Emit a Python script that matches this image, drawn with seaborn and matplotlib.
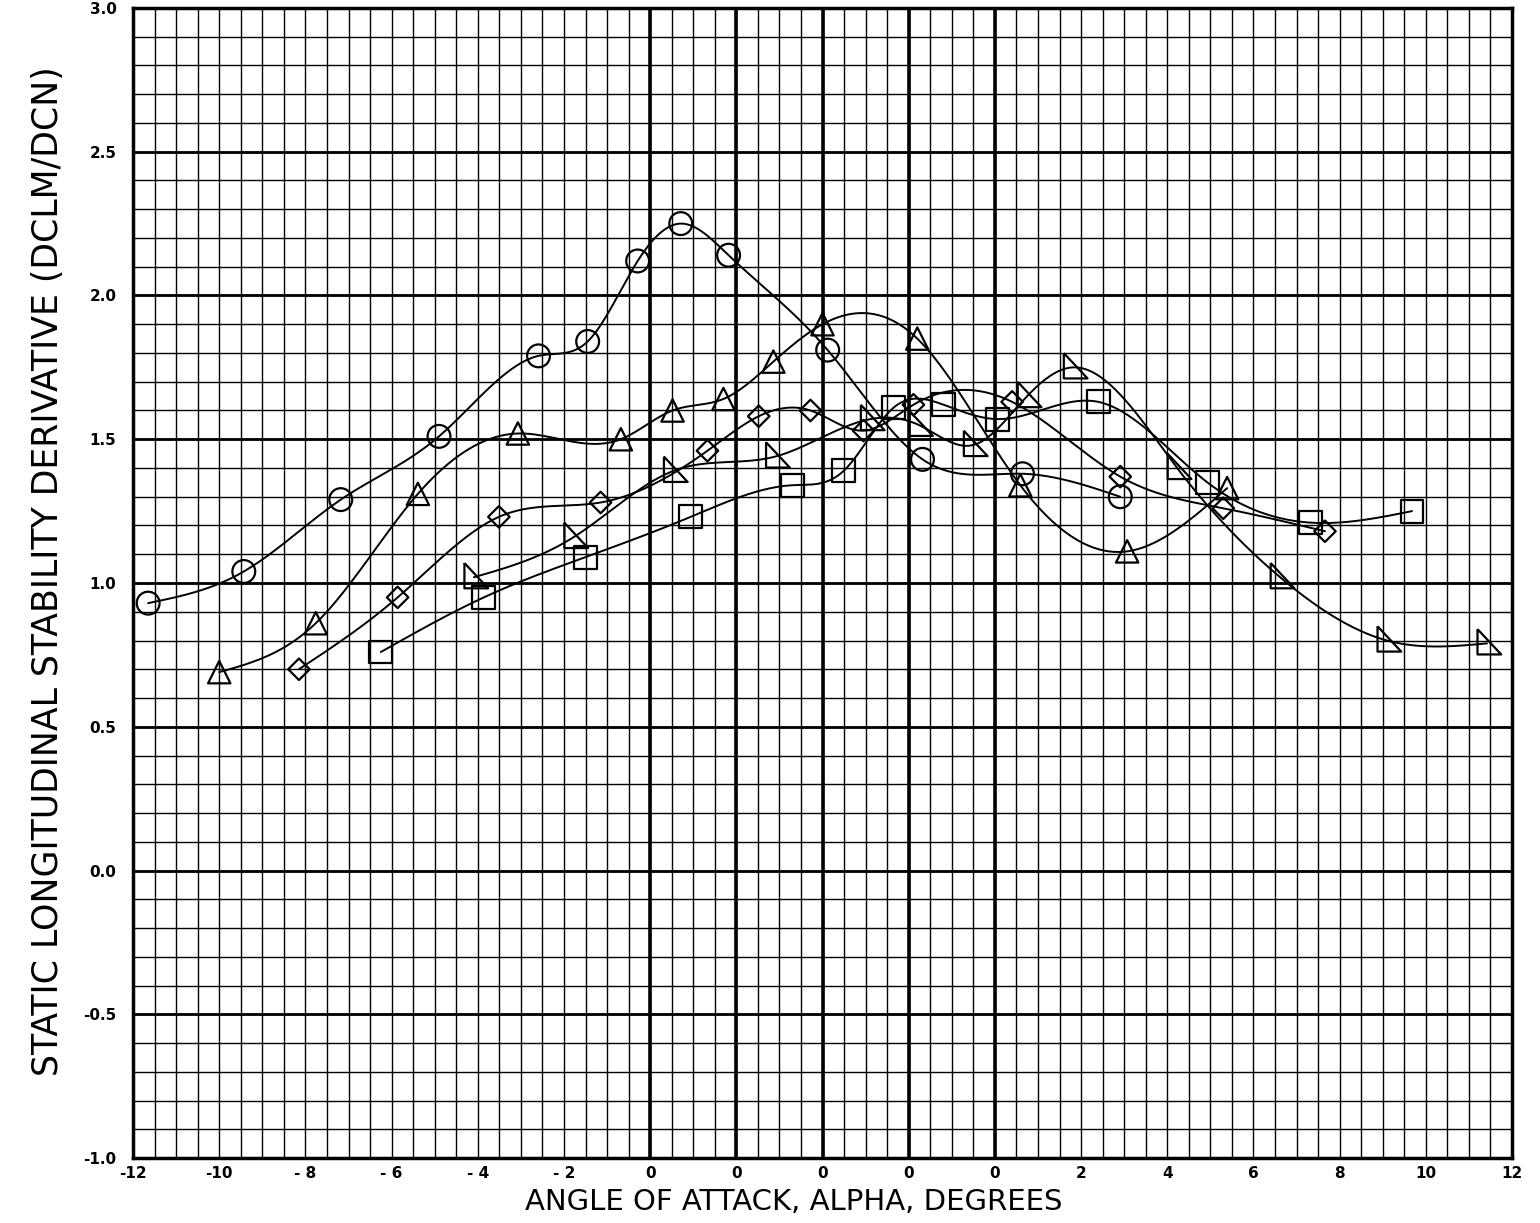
import numpy as np
import pandas as pd
import matplotlib
matplotlib.use('Agg')
import matplotlib.pyplot as plt
from matplotlib.ticker import MultipleLocator, FixedLocator, FixedFormatter
import seaborn as sns

# angle d'attaque (degres) et derivee DCLM/DCN
alpha_circle = [-11.65, -9.43, -7.18, -4.90, -2.59, -1.45, -0.29, 0.71, 1.82, 4.12, 6.32, 8.64, 10.91]
dcm_circle = [0.93, 1.04, 1.29, 1.51, 1.79, 1.84, 2.12, 2.25, 2.14, 1.81, 1.43, 1.38, 1.30]

alpha_tri = [-12.00, -9.76, -7.39, -5.07, -2.68, -1.48, -0.30, 0.86, 2.00, 4.20, 6.59, 9.07, 11.39]
dcm_tri = [0.69, 0.86, 1.31, 1.52, 1.50, 1.60, 1.64, 1.77, 1.90, 1.85, 1.34, 1.11, 1.33]

alpha_dia = [-12.15, -9.86, -7.51, -5.15, -2.67, -1.48, -0.28, 0.95, 2.11, 4.40, 6.91, 9.30, 11.66]
dcm_dia = [0.70, 0.95, 1.23, 1.28, 1.46, 1.58, 1.60, 1.53, 1.62, 1.63, 1.37, 1.26, 1.18]

alpha_sq = [-12.25, -9.86, -7.50, -5.06, -2.70, -1.51, -0.35, 0.81, 2.06, 4.40, 6.93, 9.32, 11.68]
dcm_sq = [0.76, 0.95, 1.09, 1.23, 1.34, 1.39, 1.61, 1.62, 1.57, 1.63, 1.35, 1.21, 1.25]

alpha_tt = [-12.09, -9.77, -7.46, -5.09, -2.89, -1.77, -0.50, 0.75, 1.82, 4.23, 6.62, 9.10, 11.42]
dcm_tt = [1.02, 1.16, 1.39, 1.44, 1.57, 1.55, 1.48, 1.65, 1.75, 1.40, 1.02, 0.80, 0.79]

xtick_labels = ['-12', '-10', '- 8', '- 6', '- 4', '- 2', '0', '0', '0', '0', '0',
                '2', '4', '6', '8', '10', '12']
ytick_labels = ['-1.0', '-0.5', '0.0', '0.5', '1.0', '1.5', '2.0', '2.5', '3.0']

# decalage des courbes (echelles decalees de 2 degres)
offsets = [0, 2, 4, 6, 8]
tilted = [(-0.6, 0.9), (-0.6, -0.7), (0.9, -0.7), (-0.6, 0.9)]
series = [
    (alpha_circle, dcm_circle, 'o', 270),
    (alpha_tri, dcm_tri, '^', 260),
    (alpha_dia, dcm_dia, 'D', 120),
    (alpha_sq, dcm_sq, 's', 270),
    (alpha_tt, dcm_tt, tilted, 420),
]


def natural_spline(x, y, n=400):
    x = np.asarray(x, float)
    y = np.asarray(y, float)
    k = len(x)
    h = np.diff(x)
    A = np.zeros((k, k))
    r = np.zeros(k)
    A[0, 0] = A[-1, -1] = 1
    for i in range(1, k - 1):
        A[i, i - 1] = h[i - 1]
        A[i, i] = 2 * (h[i - 1] + h[i])
        A[i, i + 1] = h[i]
        r[i] = 3 * ((y[i + 1] - y[i]) / h[i] - (y[i] - y[i - 1]) / h[i - 1])
    c = np.linalg.solve(A, r)
    b = (y[1:] - y[:-1]) / h - h * (2 * c[:-1] + c[1:]) / 3
    d = (c[1:] - c[:-1]) / (3 * h)
    xs = np.linspace(x[0], x[-1], n)
    i = np.clip(np.searchsorted(x, xs) - 1, 0, k - 2)
    dx = xs - x[i]
    return xs, y[i] + b[i] * dx + c[i] * dx ** 2 + d[i] * dx ** 3


sns.set_style('white')
plt.rcParams['font.family'] = ['DejaVu Sans']
plt.rcParams['text.color'] = 'black'
plt.rcParams['axes.labelcolor'] = 'black'
plt.rcParams['xtick.color'] = 'black'
plt.rcParams['ytick.color'] = 'black'

fig = plt.figure(figsize=(15.4, 12.23), dpi=100)
ax = fig.add_axes([0.0864, 0.0531, 0.8954, 0.9404])

for (a, v, m, s), off in zip(series, offsets):
    xs, ys = natural_spline(a, v)
    df = pd.DataFrame({'x': xs + off, 'y': ys})
    sns.lineplot(data=df, x='x', y='y', sort=False, estimator=None,
                 color='black', lw=1.4, ax=ax, zorder=3)
    sns.scatterplot(x=np.array(a) + off, y=v, marker=m, s=s, ax=ax, zorder=4)
    coll = ax.collections[-1]
    coll.set_facecolor('none')
    coll.set_edgecolor('black')
    coll.set_linewidth(1.6)

ax.set_xlim(-12, 20)
ax.set_ylim(-1.0, 3.0)
ax.xaxis.set_major_locator(FixedLocator(list(range(-12, 21, 2))))
ax.xaxis.set_major_formatter(FixedFormatter(xtick_labels))
ax.set_yticks(np.arange(-1.0, 3.01, 0.5))
ax.set_yticklabels(ytick_labels)
ax.xaxis.set_minor_locator(MultipleLocator(0.5))
ax.yaxis.set_minor_locator(MultipleLocator(0.1))
ax.grid(which='both', color='black', lw=1.0)
ax.set_axisbelow(True)
for yv in np.arange(-0.5, 3.0, 0.5):
    ax.axhline(yv, color='black', lw=2.0, zorder=1)
for off in offsets:
    ax.axvline(off, color='black', lw=2.6, zorder=1)

ax.tick_params(which='both', length=0)
ax.tick_params(axis='x', pad=6, labelsize=11)
ax.tick_params(axis='y', pad=12, labelsize=11)
for lab in ax.get_xticklabels() + ax.get_yticklabels():
    lab.set_fontweight('bold')
for sp in ax.spines.values():
    sp.set_linewidth(2.5)
    sp.set_color('black')

ax.set_xlabel('ANGLE OF ATTACK, ALPHA, DEGREES', fontsize=21)
ax.xaxis.set_label_coords(0.479, -0.026)
ax.set_ylabel('STATIC LONGITUDINAL STABILITY DERIVATIVE (DCLM/DCN)', fontsize=25, va='center')
ax.yaxis.set_label_coords(-0.0616, 0.51)

plt.savefig('out.png', dpi=100)
